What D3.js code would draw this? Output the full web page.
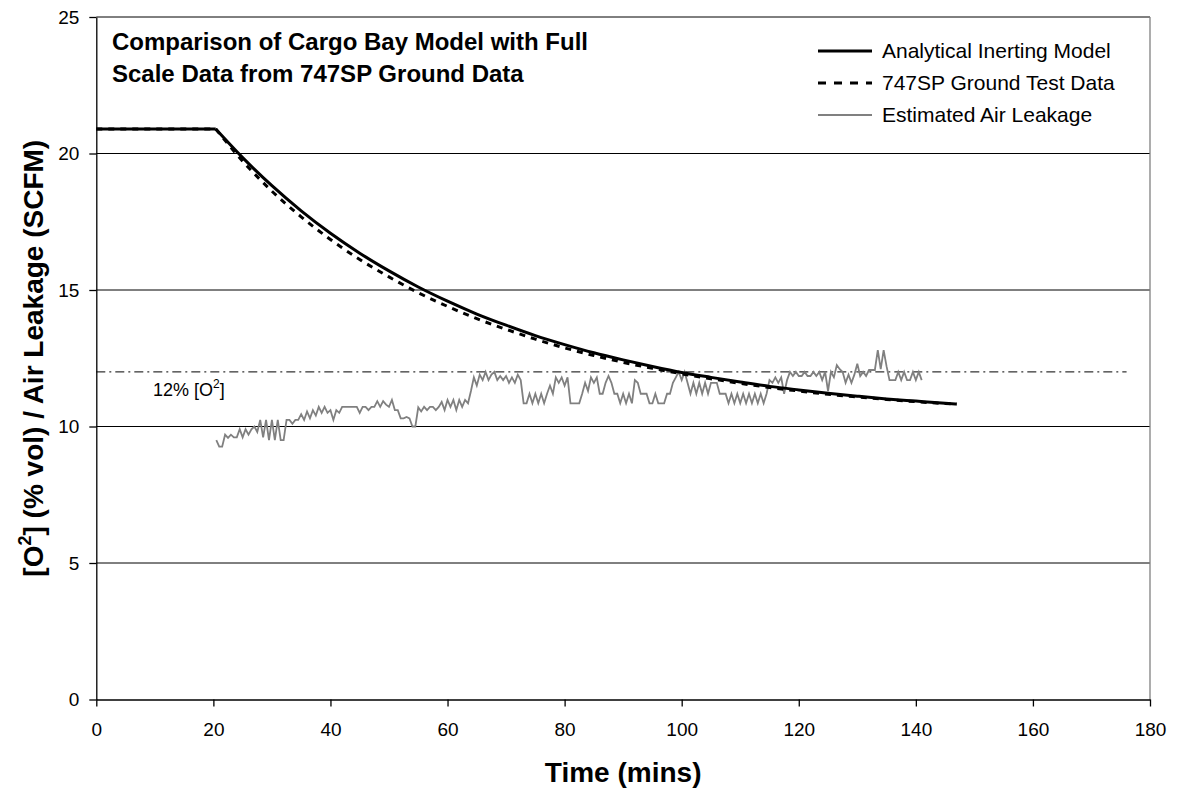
<!DOCTYPE html>
<html><head><meta charset="utf-8">
<script src="https://cdn.jsdelivr.net/npm/d3@7"></script>
<style>
html,body{margin:0;padding:0;background:#fff;}
svg{display:block;font-family:"Liberation Sans",Arial,sans-serif;}
</style></head>
<body>
<svg id="chart" width="1179" height="788"></svg>
<script>
// ---------------- data ----------------
const xTicks = [0, 20, 40, 60, 80, 100, 120, 140, 160, 180];
const yTicks = [0, 5, 10, 15, 20, 25];

// Analytical Inerting Model
const modelTime = [0, 20.4, 25, 30, 35, 40, 45, 50, 55, 60, 65, 70, 75, 80, 85, 90, 95, 100, 105, 110, 115, 120, 125, 130, 135, 140, 145, 147];
const modelO2   = [20.9, 20.9, 19.85, 18.82, 17.90, 17.08, 16.35, 15.70, 15.11, 14.59, 14.12, 13.71, 13.33, 13.00, 12.70, 12.44, 12.20, 11.98, 11.80, 11.63, 11.47, 11.34, 11.22, 11.11, 11.01, 10.93, 10.85, 10.82];

// 747SP Ground Test Data
const testTime = [0, 20.4, 25, 30, 35, 40, 45, 50, 55, 60, 65, 70, 75, 80, 85, 90, 95, 100, 105, 110, 115, 120, 125, 130, 135, 140, 145, 147];
const testO2   = [20.9, 20.9, 19.72, 18.62, 17.68, 16.85, 16.12, 15.48, 14.90, 14.40, 13.95, 13.56, 13.20, 12.88, 12.60, 12.35, 12.13, 11.93, 11.75, 11.58, 11.43, 11.30, 11.18, 11.08, 10.99, 10.91, 10.84, 10.82];

// Estimated Air Leakage (sampled every 0.5 min from 20.5 min)
const leakStart = 20.5, leakStep = 0.5;
const leakValues = [
  9.5, 9.26, 9.26, 9.7, 9.58, 9.7, 9.6, 9.6, 9.9, 9.6,
  9.9, 9.7, 9.9, 10.0, 9.8, 10.24, 9.6, 10.24, 9.5, 10.24,
  9.5, 10.24, 9.5, 9.5, 10.24, 10.24, 10.1, 10.24, 10.24, 10.45,
  10.24, 10.55, 10.3, 10.6, 10.4, 10.72, 10.5, 10.72, 10.5, 10.6,
  10.24, 10.6, 10.5, 10.72, 10.72, 10.72, 10.72, 10.72, 10.72, 10.5,
  10.72, 10.72, 10.6, 10.72, 10.72, 10.93, 10.72, 10.93, 10.8, 10.72,
  10.97, 10.6, 10.6, 10.3, 10.3, 10.35, 10.3, 10.0, 10.0, 10.7,
  10.55, 10.72, 10.6, 10.72, 10.72, 10.6, 10.72, 10.9, 10.6, 10.97,
  10.72, 10.97, 10.6, 10.97, 10.72, 10.97, 10.85, 11.3, 11.8, 11.5,
  11.9, 11.7, 12.0, 11.7, 11.9, 12.0, 11.7, 11.85, 11.7, 11.85,
  11.6, 11.8, 11.6, 11.9, 11.7, 10.85, 10.85, 11.2, 10.85, 11.2,
  10.85, 11.2, 10.85, 11.2, 11.5, 11.2, 11.8, 11.6, 11.8, 11.5,
  11.8, 10.85, 10.85, 10.85, 10.85, 11.2, 11.6, 11.3, 11.8, 11.6,
  11.8, 11.2, 11.2, 11.6, 11.85, 11.6, 11.2, 11.2, 10.85, 11.2,
  10.85, 11.2, 10.85, 11.7, 11.6, 11.2, 11.2, 11.2, 10.85, 10.85,
  11.2, 10.85, 10.85, 10.85, 11.2, 11.2, 11.6, 11.8, 12.0, 11.7,
  12.0, 11.6, 11.2, 11.6, 11.2, 11.6, 11.2, 11.6, 11.2, 11.6,
  11.6, 11.6, 11.2, 11.2, 11.2, 10.85, 11.2, 10.85, 11.2, 10.85,
  11.2, 10.85, 11.2, 10.85, 11.2, 10.85, 11.2, 10.85, 11.2, 11.7,
  11.6, 11.8, 11.6, 11.8, 11.2, 11.7, 12.0, 11.85, 12.0, 11.85,
  11.85, 12.0, 11.85, 11.85, 12.0, 11.85, 12.0, 11.7, 12.0, 11.3,
  12.0, 11.8, 12.25, 12.1, 12.0, 11.6, 11.9, 11.6, 11.9, 12.3,
  11.85, 12.0, 11.85, 12.07, 12.07, 12.07, 12.8, 12.1, 12.8, 12.2,
  11.7, 11.7, 11.7, 12.0, 11.7, 12.0, 11.7, 11.7, 12.0, 11.7, 12.0, 11.7
];

// 12% O2 reference line
const refLevel = 12;
const refRange = [0, 176];

const seriesNames = ["Analytical Inerting Model", "747SP Ground Test Data", "Estimated Air Leakage"];
const titleLines = ["Comparison of Cargo Bay Model with Full", "Scale Data from 747SP Ground Data"];

// ---------------- layout ----------------
const svg = d3.select("#chart");
const L = 96.3, R = 1150, T = 17, B = 699.5;
const x = d3.scaleLinear().domain([0, 180]).range([L, R]);
const y = d3.scaleLinear().domain([0, 25]).range([B, T]);
const FONT = '"Liberation Sans",Arial,sans-serif';

// gridlines
svg.append("g").selectAll("line").data(yTicks.filter(d => d > 0)).join("line")
  .attr("x1", L).attr("x2", R)
  .attr("y1", d => y(d)).attr("y2", d => y(d))
  .attr("stroke", "#000").attr("stroke-width", 1);

// right border
svg.append("line").attr("x1", R).attr("x2", R).attr("y1", T).attr("y2", B)
  .attr("stroke", "#808080").attr("stroke-width", 1.3);

// axes
const gx = svg.append("g").attr("transform", `translate(0,${B})`)
  .call(d3.axisBottom(x).tickValues(xTicks).tickSize(7).tickSizeOuter(0).tickPadding(16));
const gy = svg.append("g").attr("transform", `translate(${L},0)`)
  .call(d3.axisLeft(y).tickValues(yTicks).tickSize(7).tickSizeOuter(0).tickPadding(10));
[gx, gy].forEach(g => {
  g.selectAll("path.domain").attr("stroke", "#000").attr("stroke-width", 1.3);
  g.selectAll(".tick line").attr("stroke", "#000").attr("stroke-width", 1.3);
  g.selectAll(".tick text").attr("font-family", FONT).attr("font-size", 19).attr("fill", "#000");
});

// reference line
svg.append("line")
  .attr("x1", x(refRange[0])).attr("x2", x(refRange[1]))
  .attr("y1", y(refLevel)).attr("y2", y(refLevel))
  .attr("stroke", "#000").attr("stroke-width", 1)
  .attr("stroke-dasharray", "9,4,2,4");

const refLabel = svg.append("text").attr("x", 153).attr("y", 396)
  .attr("text-anchor", "start").attr("font-size", 18).attr("font-family", FONT).attr("fill", "#000");
refLabel.append("tspan").text("12% [O");
refLabel.append("tspan").attr("font-size", 12).attr("dy", -8).text("2");
refLabel.append("tspan").attr("dy", 8).text("]");

// leakage
const leakData = leakValues.map((v, i) => [leakStart + i * leakStep, v]);
svg.append("path").datum(leakData)
  .attr("fill", "none").attr("stroke", "#808080").attr("stroke-width", 1.8)
  .attr("stroke-linejoin", "miter")
  .attr("d", d3.line().x(d => x(d[0])).y(d => y(d[1])));

// model & test
function drawCurve(times, vals, attrs) {
  const pts = times.map((t, i) => [t, vals[i]]);
  const flat = pts.slice(0, 2);
  const decl = pts.slice(1);
  const lin = d3.line().x(d => x(d[0])).y(d => y(d[1]));
  const smooth = d3.line().curve(d3.curveMonotoneX).x(d => x(d[0])).y(d => y(d[1]));
  const g = svg.append("g");
  [[flat, lin], [decl, smooth]].forEach(([d, gen]) => {
    const p = g.append("path").datum(d).attr("fill", "none").attr("d", gen);
    Object.entries(attrs).forEach(([k, v]) => p.attr(k, v));
  });
}
drawCurve(modelTime, modelO2, {"stroke": "#000", "stroke-width": 3});
drawCurve(testTime, testO2, {"stroke": "#000", "stroke-width": 3, "stroke-dasharray": "6,6"});

// title
titleLines.forEach((t, i) => {
  svg.append("text").attr("x", 112).attr("y", 50 + i * 32)
    .attr("font-size", 24).attr("font-weight", "bold").attr("font-family", FONT)
    .attr("fill", "#000").text(t);
});

// legend
const legY = [51, 83, 115];
const legStyles = [
  {stroke: "#000", w: 3, dash: null},
  {stroke: "#000", w: 3, dash: "8,8"},
  {stroke: "#808080", w: 1.8, dash: null}
];
seriesNames.forEach((n, i) => {
  const s = legStyles[i];
  const ln = svg.append("line").attr("x1", 818).attr("x2", 872)
    .attr("y1", legY[i]).attr("y2", legY[i])
    .attr("stroke", s.stroke).attr("stroke-width", s.w);
  if (s.dash) ln.attr("stroke-dasharray", s.dash);
  svg.append("text").attr("x", 882).attr("y", legY[i]).attr("dy", "0.35em")
    .attr("font-size", 21).attr("font-family", FONT).attr("fill", "#000").text(n);
});

// axis titles
svg.append("text").attr("x", (L + R) / 2).attr("y", 782)
  .attr("text-anchor", "middle").attr("font-size", 28).attr("font-weight", "bold")
  .attr("font-family", FONT).text("Time (mins)");

const yt = svg.append("text").attr("transform", `translate(43,${(T + B) / 2}) rotate(-90)`)
  .attr("text-anchor", "middle").attr("font-size", 28).attr("font-weight", "bold")
  .attr("font-family", FONT);
yt.append("tspan").text("[O");
yt.append("tspan").attr("font-size", 18).attr("dy", -12).text("2");
yt.append("tspan").attr("dy", 12).text("] (% vol) / Air Leakage (SCFM)");
</script>
</body></html>
